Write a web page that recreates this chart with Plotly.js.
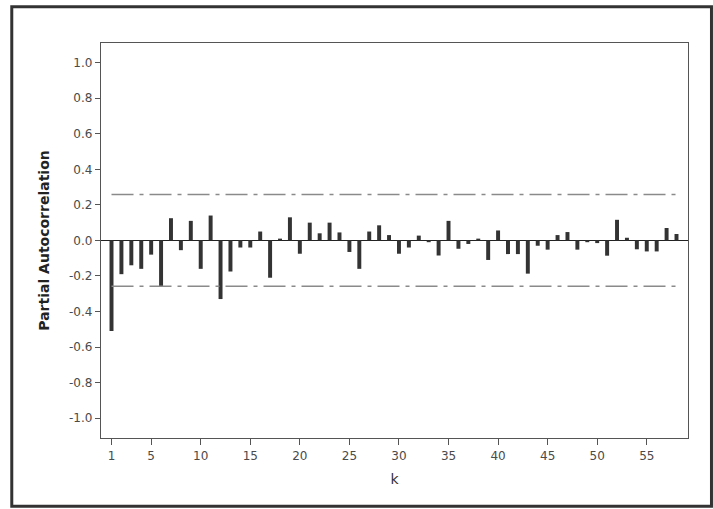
<!DOCTYPE html>
<html>
<head>
<meta charset="utf-8">
<script src="https://cdn.plot.ly/plotly-3.0.1.min.js"></script>
<style>
  html, body { margin: 0; padding: 0; background: #fff; }
  #chart { width: 713px; height: 509px; }
</style>
</head>
<body>
<div id="chart"></div>
<script>
// Lags (k)
const lags = [1,2,3,4,5,6,7,8,9,10,11,12,13,14,15,16,17,18,19,20,
              21,22,23,24,25,26,27,28,29,30,31,32,33,34,35,36,37,38,39,40,
              41,42,43,44,45,46,47,48,49,50,51,52,53,54,55,56,57,58];
// Partial autocorrelation values
const pacf = [-0.51,-0.19,-0.14,-0.16,-0.08,-0.26,0.125,-0.055,0.11,-0.16,
              0.14,-0.33,-0.175,-0.04,-0.04,0.05,-0.21,0.01,0.13,-0.075,
              0.10,0.04,0.10,0.045,-0.065,-0.16,0.05,0.085,0.03,-0.075,
              -0.04,0.027,-0.01,-0.085,0.11,-0.047,-0.02,0.01,-0.11,0.056,
              -0.077,-0.077,-0.187,-0.03,-0.052,0.03,0.047,-0.052,-0.01,-0.015,
              -0.086,0.116,0.015,-0.05,-0.062,-0.062,0.07,0.036];
// Significance limits
const limitX = [1, 58];
const upperLimit = [0.258, 0.258];
const lowerLimit = [-0.258, -0.258];
// Tick labels
const xTickVals = [1,5,10,15,20,25,30,35,40,45,50,55];
const yTickVals = [1.0,0.8,0.6,0.4,0.2,0.0,-0.2,-0.4,-0.6,-0.8,-1.0];
const yTickText = ["1.0","0.8","0.6","0.4","0.2","0.0","-0.2","-0.4","-0.6","-0.8","-1.0"];

const limitLine = {color: '#8a8a8a', width: 1.5, dash: '22px,6px,4px,6px'};

const traces = [
  {type: 'bar', x: lags, y: pacf, width: 0.4,
   marker: {color: '#333333', line: {width: 0}}, hoverinfo: 'x+y'},
  {type: 'scatter', mode: 'lines', x: limitX, y: upperLimit, line: limitLine, hoverinfo: 'skip'},
  {type: 'scatter', mode: 'lines', x: limitX, y: lowerLimit, line: limitLine, hoverinfo: 'skip'}
];

const tickFont = {family: 'DejaVu Sans', size: 12, color: '#4a4a4a'};

const layout = {
  width: 713, height: 509,
  margin: {l: 100.5, r: 24.5, t: 43, b: 70.5},
  paper_bgcolor: '#ffffff', plot_bgcolor: '#ffffff',
  showlegend: false,
  xaxis: {
    range: [-0.06, 59.16],
    tickmode: 'array', tickvals: xTickVals,
    ticks: 'outside', ticklen: 6, tickcolor: '#555',
    showgrid: false, zeroline: false,
    showline: true, linecolor: '#555', linewidth: 1.2, mirror: true,
    tickfont: tickFont,
    title: {text: 'k', font: {family: 'DejaVu Sans', size: 14, color: '#333'}, standoff: 12}
  },
  yaxis: {
    range: [-1.112, 1.111],
    tickmode: 'array', tickvals: yTickVals, ticktext: yTickText,
    ticks: 'outside', ticklen: 5, tickcolor: '#555',
    showgrid: false,
    zeroline: true, zerolinecolor: '#222', zerolinewidth: 1.5,
    showline: true, linecolor: '#555', linewidth: 1.2, mirror: true,
    tickfont: tickFont,
    title: {text: 'Partial Autocorrelation', font: {family: 'DejaVu Sans', size: 14, color: '#222', weight: 'bold'}, standoff: 16}
  },
  shapes: [
    {type: 'rect', xref: 'paper', yref: 'paper',
     x0: -0.152, x1: 1.04, y0: -0.173, y1: 1.092,
     line: {color: '#333', width: 3}, fillcolor: 'rgba(0,0,0,0)', layer: 'below'}
  ]
};

Plotly.newPlot('chart', traces, layout, {staticPlot: true, displayModeBar: false});
</script>
</body>
</html>
